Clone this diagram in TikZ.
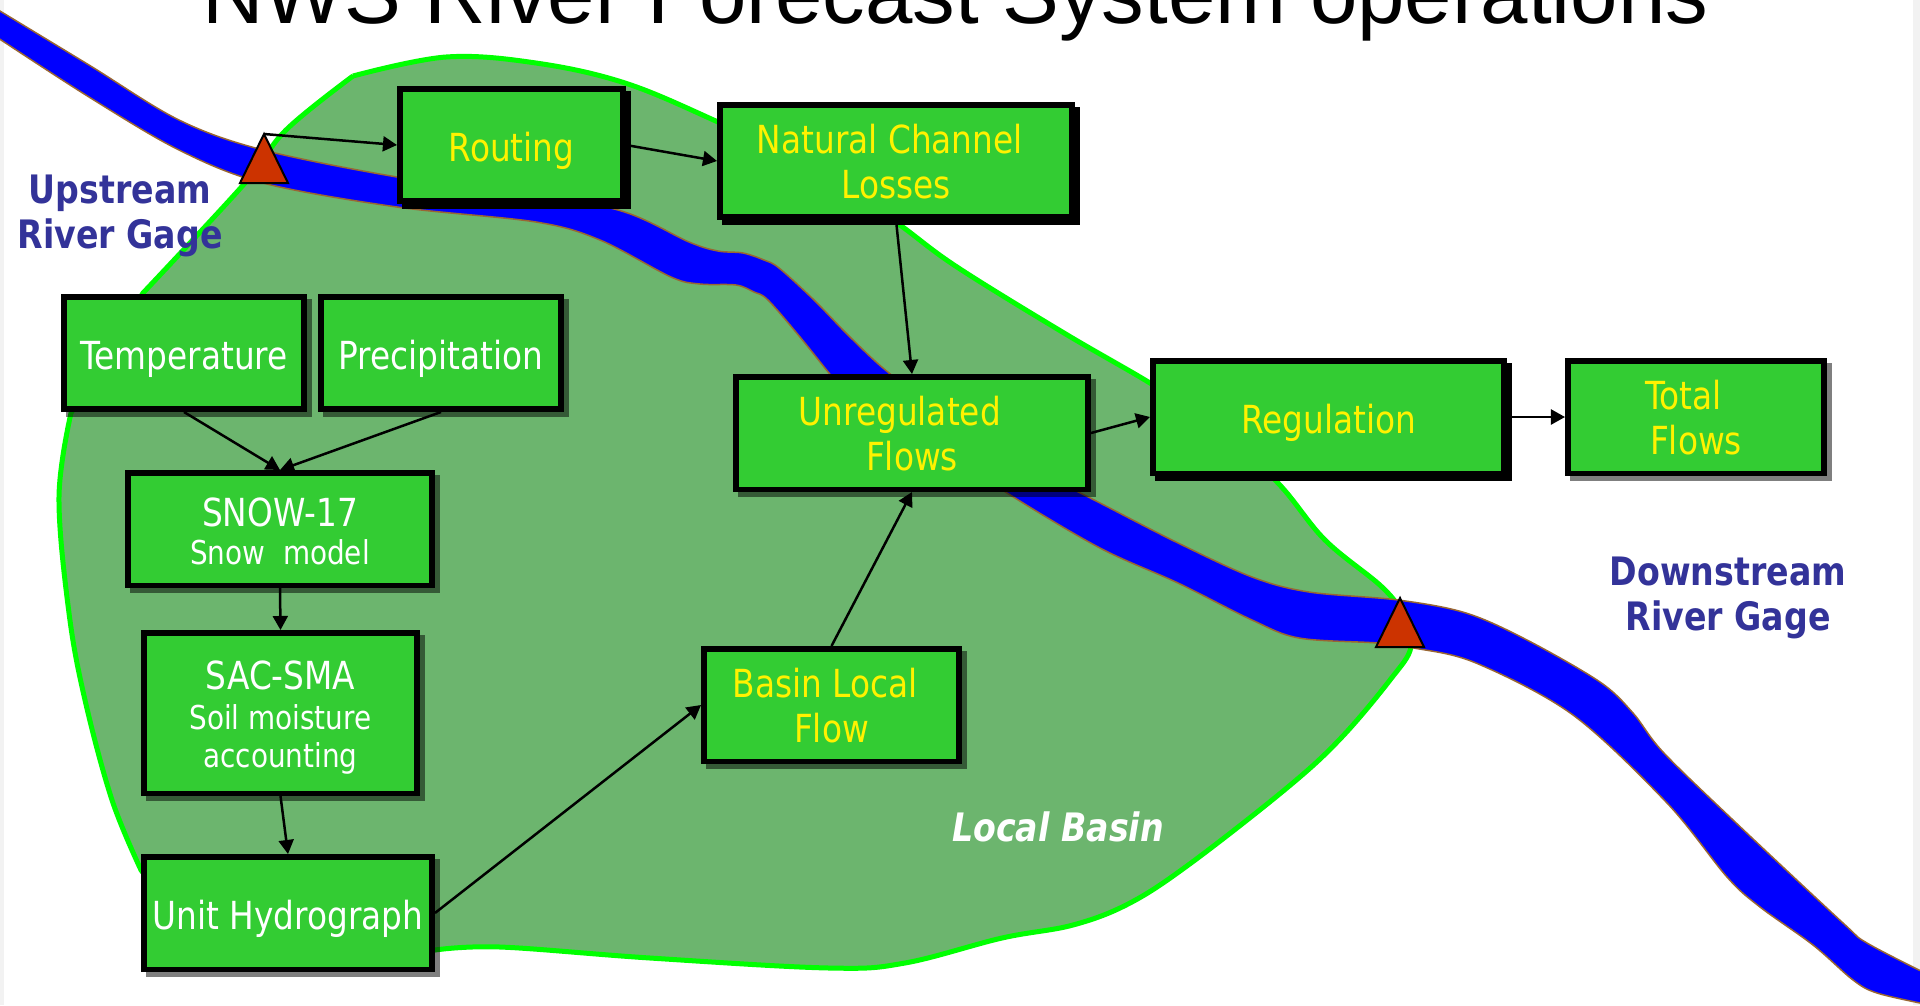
\documentclass[tikz,border=0pt]{standalone}
\usepackage{fontspec}
\usepackage{xcolor}
\setmainfont{DejaVu Sans}[FakeStretch=0.848]
\newfontfamily\titlefont{Liberation Sans}
\usetikzlibrary{arrows.meta,shadows}

\definecolor{basinfill}{HTML}{6CB56E}
\definecolor{basinline}{HTML}{00FF00}
\definecolor{riverblue}{HTML}{0000FF}
\definecolor{riveredge}{HTML}{996633}
\definecolor{boxgreen}{HTML}{33CC33}
\definecolor{gagered}{HTML}{CC3300}
\definecolor{gagetext}{HTML}{333399}
\definecolor{sideband}{HTML}{F2F2F2}

\tikzset{
    flowbox/.style={draw=black,line width=0.11cm,fill=boxgreen,inner sep=0pt,align=center,
        minimum height=2.25cm,font=\fontsize{22}{25.5}\selectfont,
        execute at begin node={\rule{0pt}{23.4pt}},
        execute at end node={\rule[-5pt]{0pt}{5pt}}},
    tallrow/.style={execute at begin node={\rule{0pt}{#1}}},
    softshadow/.style={general shadow={shadow xshift=0.1cm,shadow yshift=-0.1cm,opacity=0.5,
        draw=black,line width=0.11cm}},
    hardshadow/.style={general shadow={shadow xshift=0.1cm,shadow yshift=-0.1cm,
        fill=black,draw=black,line width=0.11cm}},
    whitebox/.style={flowbox,softshadow,text=white},
    yellowbox/.style={flowbox,softshadow,text=yellow},
    heavybox/.style={flowbox,hardshadow,text=yellow},
    gagelabel/.style={align=center,inner sep=0pt,text=gagetext,
        font=\fontsize{22.3}{25.5}\selectfont\bfseries},
    gagemark/.style={draw=black,line width=0.04cm,fill=gagered,line join=miter},
    flowarrow/.style={draw=black,line width=0.05cm,-{Triangle[length=8pt,width=8.5pt]}}
}
\newcommand{\subline}{\fontsize{18.7}{21}\selectfont}

\begin{document}
\begin{tikzpicture}[x=0.02cm,y=-0.02cm]
    \useasboundingbox (0,0) rectangle (1920,1005);

    \fill[sideband] (0,0) rectangle (4,1005);
    \fill[sideband] (1913,0) rectangle (1920,1005);

    % slide title, cut off by the top edge
    \node[anchor=base west,inner sep=0pt,font=\fontsize{48.5}{48}\selectfont\titlefont] (bullet) at (132,16) {•};
    \node[anchor=base west,inner sep=0pt,font=\fontsize{48.5}{48}\selectfont\titlefont] (title) at (202,23) {NWS River Forecast System operations};

    % local basin
    \draw[draw=basinline,fill=basinfill,line width=0.1cm,line join=miter]
        plot[smooth,tension=0.6] coordinates {(353,76) (446,57) (536,63) (625,83) (718,122) (830,175) (900,225)
            (957,267) (1064,333) (1150,383) (1215,425) (1278,483) (1325,540) (1382,587) (1403,615) (1411,647) (1390,680)
            (1341,738) (1288,787) (1191,863) (1130,903) (1073,925) (1002,938) (905,963) (829,968)
            (650,958) (500,947) (435,950)}
        -- (200,950) -- (141,870)
        -- plot[smooth,tension=0.6] coordinates {(141,870) (112,800) (85,700) (69,613) (59,497) (71,413)}
        -- plot[smooth,tension=0.6] coordinates {(143,293) (245,183) (286,130) (353,76)};

    % river
    \draw[draw=riveredge,fill=riverblue,line width=0.03cm]
        plot[smooth,tension=0.55] coordinates {(-5,8) (89,65) (179,120) (263,150) (397,177) (500,190) (618,210) (689,242)
            (718,251) (743,253) (764,260) (779,268) (814,300) (850,337) (889,373) (950,417) (1007,455) (1100,503) (1178,543) (1252,577) (1309,592) (1398,600)
            (1466,613) (1527,640) (1600,682) (1633,713) (1663,752) (1733,820) (1843,923) (1867,943) (1925,973)}
        -- plot[smooth,tension=0.55] coordinates {(1925,1004) (1877,993) (1853,980) (1813,945) (1760,907) (1727,877)
            (1667,803) (1573,715) (1476,663) (1414,648) (1377,643) (1299,638) (1252,620) (1178,583) (1100,548)
            (1007,493) (915,432) (840,385) (829,373) (800,337) (768,300) (754,292) (736,285) (700,284) (671,277) (600,240) (536,222) (397,207) (263,183) (179,150)
            (89,97) (-5,36)} -- cycle;

    % gages
    \coordinate (upgage) at (264,134);
    \coordinate (downgage) at (1400,598);
    \draw[gagemark] (upgage) -- (240,183) -- (288,183) -- cycle;
    \draw[gagemark] (downgage) -- (1376,647) -- (1424,647) -- cycle;

    \node[gagelabel] (upstream) at (120,216) {Upstream\\River Gage};
    \node[gagelabel] (downstream) at (1728,598) {Downstream\\River Gage};
    \node[inner sep=0pt,text=white,font=\fontsize{22.3}{25.5}\selectfont\bfseries\itshape] (localbasin) at (1058,827) {Local Basin};

    % boxes
    \node[heavybox,minimum width=4.47cm] (routing) at (511.5,145) {Routing};
    \node[heavybox,tallrow=47.8pt,minimum width=7.05cm] (natural) at (896,161) {Natural Channel\hspace*{7pt}\\Losses};
    \node[heavybox,minimum width=7.03cm] (regulation) at (1328.5,417) {Regulation};
    \node[yellowbox,tallrow=47.8pt,minimum width=7.05cm] (unregulated) at (912,433) {Unregulated\hspace*{14pt}\\Flows};
    \node[yellowbox,tallrow=47.8pt,minimum width=5.13cm] (totalflows) at (1696,417) {Total\hspace*{14pt}\\Flows};
    \node[yellowbox,tallrow=47.8pt,minimum width=5.11cm] (basinflow) at (831.5,705) {Basin Local\hspace*{7pt}\\Flow};
    \node[whitebox,minimum width=4.81cm] (temperature) at (184,353) {Temperature};
    \node[whitebox,minimum width=4.81cm] (precipitation) at (441,353) {Precipitation};
    \node[whitebox,tallrow=45pt,minimum width=6.09cm] (snow) at (280,529) {SNOW-17\\[-3.8pt]{\subline Snow~~model}};
    \node[whitebox,tallrow=67.2pt,minimum width=5.47cm,minimum height=3.21cm] (sacsma) at (280.5,713) {SAC-SMA\\[-3pt]{\subline Soil moisture\hspace*{5pt}}\\[-3.5pt]{\subline accounting}};
    \node[whitebox,minimum width=5.77cm] (unit) at (288,913) {Unit Hydrograph};

    % connectors
    \draw[flowarrow] (upgage) -- (routing.west);
    \draw[flowarrow] (routing.east) -- (natural.west);
    \draw[flowarrow] (natural.south) -- (unregulated.north);
    \draw[flowarrow] (unregulated.east) -- (regulation.west);
    \draw[flowarrow] (regulation.east) -- (totalflows.west);
    \draw[flowarrow] (temperature.south) -- (snow.north);
    \draw[flowarrow] (precipitation.south) -- (snow.north);
    \draw[flowarrow] (snow.south) -- (sacsma.north);
    \draw[flowarrow] (sacsma.south) -- (unit.north);
    \draw[flowarrow] (unit.east) -- (basinflow.west);
    \draw[flowarrow] (basinflow.north) -- (unregulated.south);
\end{tikzpicture}
\end{document}
